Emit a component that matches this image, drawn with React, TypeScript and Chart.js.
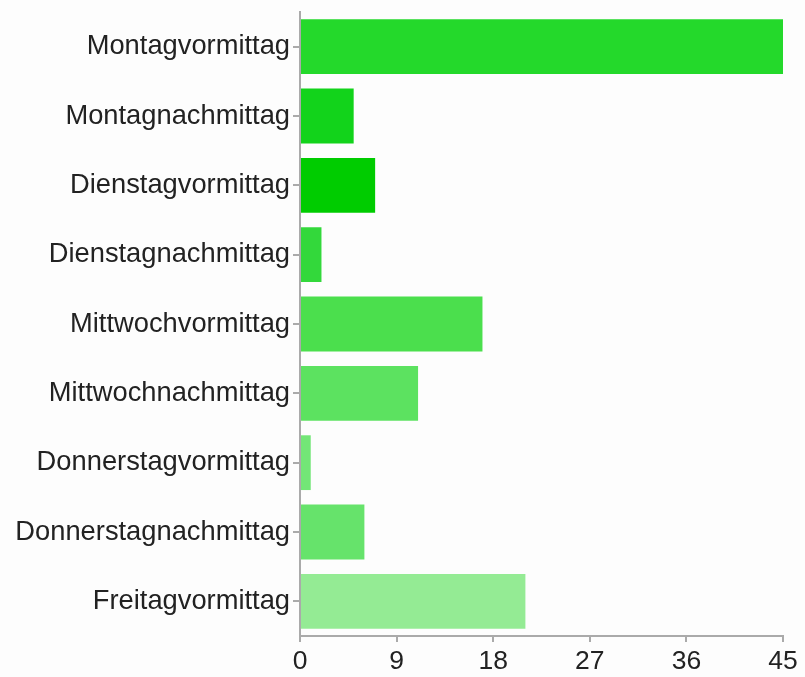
import React, { useEffect, useRef } from "react";
import { Chart, registerables } from "chart.js";

Chart.register(...registerables);

const categories = [
  "Montagvormittag",
  "Montagnachmittag",
  "Dienstagvormittag",
  "Dienstagnachmittag",
  "Mittwochvormittag",
  "Mittwochnachmittag",
  "Donnerstagvormittag",
  "Donnerstagnachmittag",
  "Freitagvormittag",
];
const values = [45, 5, 7, 2, 17, 11, 1, 6, 21];
const barColors = [
  "#24d92b",
  "#12d31b",
  "#00cc00",
  "#33d83b",
  "#4bdf4d",
  "#5ce260",
  "#73e677",
  "#66e36b",
  "#94eb94",
];
const xTicks = [0, 9, 18, 27, 36, 45];

export default function App() {
  const ref = useRef<HTMLCanvasElement | null>(null);
  useEffect(() => {
    if (!ref.current) return;
    const yFont = { family: "'Liberation Sans', Arial, sans-serif", size: 27.3 };
    const xFont = { family: "'Liberation Sans', Arial, sans-serif", size: 26.5 };
    const chart = new Chart(ref.current, {
      type: "bar",
      data: {
        labels: categories,
        datasets: [
          {
            data: values,
            backgroundColor: barColors,
            borderWidth: 0,
            categoryPercentage: 0.79,
            barPercentage: 1,
          },
        ],
      },
      options: {
        indexAxis: "y",
        animation: false,
        responsive: false,
        maintainAspectRatio: false,
        layout: { padding: { top: 12, right: 22, left: 0, bottom: 0 } },
        plugins: { legend: { display: false }, tooltip: { enabled: false } },
        scales: {
          x: {
            min: 0,
            max: 45,
            afterBuildTicks: (s: any) => {
              s.ticks = xTicks.map((v) => ({ value: v }));
            },
            afterFit: (s: any) => {
              s.height = 41;
            },
            grid: {
              drawOnChartArea: false,
              drawTicks: true,
              tickLength: 6,
              color: "#aaaaaa",
              lineWidth: 2,
            },
            border: { display: true, color: "#aaaaaa", width: 2 },
            ticks: { color: "#222222", font: xFont, padding: 4, maxRotation: 0 },
          },
          y: {
            afterFit: (s: any) => {
              s.width = 300;
              s.paddingTop = 0;
              s.paddingBottom = 0;
            },
            grid: {
              offset: false,
              drawOnChartArea: false,
              drawTicks: true,
              tickLength: 7,
              color: "#aaaaaa",
              lineWidth: 2,
            },
            border: { display: true, color: "#aaaaaa", width: 2 },
            ticks: { color: "#222222", font: yFont, padding: 3 },
          },
        },
      },
    });
    return () => chart.destroy();
  }, []);
  return (
    <div
      style={{
        position: "fixed",
        left: 0,
        top: 0,
        width: 805,
        height: 677,
        background: "#fdfdfd",
      }}
    >
      <canvas ref={ref} width={805} height={677} style={{ display: "block" }} />
    </div>
  );
}
